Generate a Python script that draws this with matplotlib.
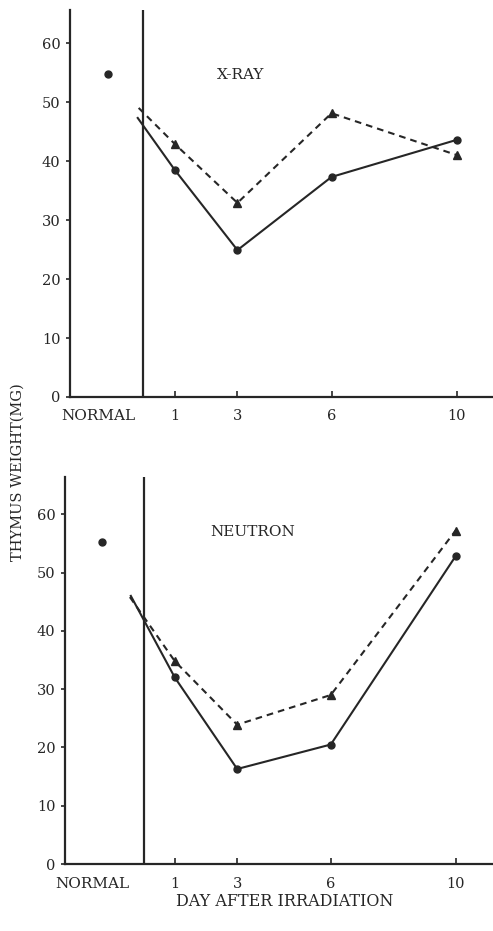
import numpy as np
import matplotlib
matplotlib.use('Agg')
import matplotlib.pyplot as plt
import matplotlib.transforms as mtransforms

plt.rcParams['font.family'] = ['DejaVu Serif']

# day after irradiation (first entry = start of the line, no marker there)
xray_days_solid = [-0.18, 1, 3, 6, 10]
xray_solid = [47.3, 38.5, 24.9, 37.3, 43.6]
xray_days_dash = [-0.15, 1, 3, 6, 10]
xray_dash = [49.0, 42.9, 32.9, 48.1, 41.0]
xray_normal = 54.7

neut_days_solid = [-0.41, 1, 3, 6, 10]
neut_solid = [46.0, 32.0, 16.3, 20.5, 52.8]
neut_days_dash = [-0.44, 1, 3, 6, 10]
neut_dash = [45.8, 34.8, 23.9, 29.0, 57.2]
neut_normal = 55.2

day_ticks = [1, 3, 6, 10]
day_labels = ['1', '3', '6', '10']
y_ticks = [0, 10, 20, 30, 40, 50, 60]

ink = '#262626'

def Draw_Panel(fig, ax, days_s, solid, days_d, dash, normal, normal_x, title, title_xy, xlim, ylim):
	ax.set_xlim(xlim)
	ax.set_ylim(ylim)
	for s in ['top', 'right']:
		ax.spines[s].set_visible(False)
	for s in ['left', 'bottom']:
		ax.spines[s].set_linewidth(1.6)
		ax.spines[s].set_color(ink)
	ax.axvline(0, color=ink, lw=1.6)
	ax.plot(days_s, solid, '-', color=ink, lw=1.5, marker='o', ms=5, markevery=[1, 2, 3, 4])
	ax.plot(days_d, dash, color=ink, lw=1.5, ls=(0, (3.2, 2.4)), marker='^', ms=5.5, markevery=[1, 2, 3, 4])
	ax.plot([normal_x], [normal], 'o', color=ink, ms=5)
	ax.set_xticks(day_ticks)
	ax.set_xticklabels(day_labels, fontsize=10.5, color=ink)
	ax.set_yticks(y_ticks)
	ax.set_yticklabels([str(v) for v in y_ticks], fontsize=10.5, color=ink)
	ax.tick_params(axis='x', direction='in', length=4, width=1.2, pad=9, colors=ink)
	ax.tick_params(axis='y', direction='out', length=3, width=1.2, pad=4, colors=ink)
	# NORMAL sits on the tick label line, left of the irradiation line
	trans = mtransforms.blended_transform_factory(ax.transData, ax.transAxes) \
		+ mtransforms.ScaledTranslation(0, -9 / 72, fig.dpi_scale_trans)
	ax.text(normal_x - 0.3, 0, 'NORMAL', transform=trans, ha='center', va='top',
		fontsize=11, color=ink)
	ax.text(title_xy[0], title_xy[1], title, fontsize=11, color=ink, ha='center', va='center')

fig = plt.figure(figsize=(4.93, 9.31), dpi=100)

ax1 = fig.add_axes([70 / 493, 1 - 397 / 931, 1 - 70 / 493, 387 / 931])
ax2 = fig.add_axes([65 / 493, 1 - 864 / 931, 1 - 65 / 493, 387 / 931])

Draw_Panel(fig, ax1, xray_days_solid, xray_solid, xray_days_dash, xray_dash, xray_normal, -1.13,
	'X-RAY', (3.1, 54.6), (-2.34, 11.15), (0, 65.6))
Draw_Panel(fig, ax2, neut_days_solid, neut_solid, neut_days_dash, neut_dash, neut_normal, -1.34,
	'NEUTRON', (3.5, 57.0), (-2.52, 11.2), (0, 66.4))

fig.text(18 / 493, 1 - 472 / 931, 'THYMUS WEIGHT(MG)', rotation=90, ha='center', va='center',
	fontsize=10.5, color=ink)
fig.text(285 / 493, 1 - 901 / 931, 'DAY AFTER IRRADIATION', ha='center', va='center',
	fontsize=11.5, color=ink)

fig.savefig('out.png', dpi=100)
